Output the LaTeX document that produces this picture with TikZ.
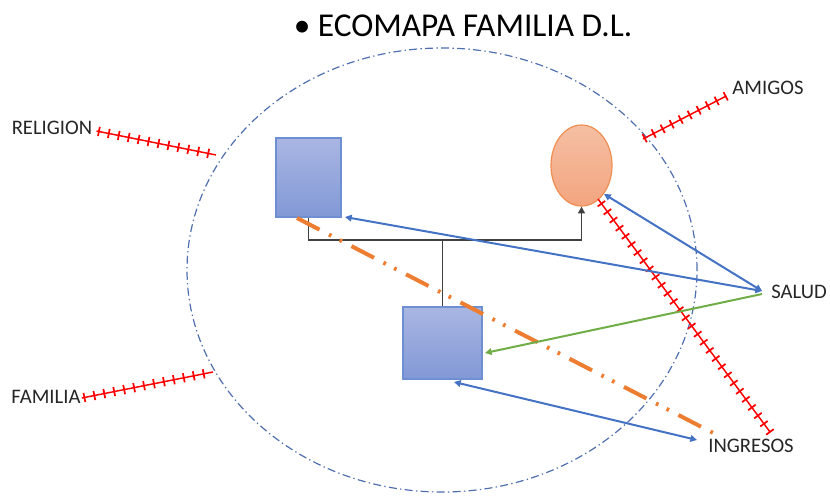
\documentclass[tikz,border=0pt]{standalone}
\usepackage{fontspec}
\setmainfont{Carlito}
\usetikzlibrary{arrows.meta,decorations.markings,calc,shapes.geometric}
\definecolor{bluefillA}{HTML}{A9B6E2}
\definecolor{bluefillB}{HTML}{8298D6}
\definecolor{blueborder}{HTML}{6E8FD2}
\definecolor{orgA}{HTML}{F5BFA3}
\definecolor{orgB}{HTML}{F3A57F}
\definecolor{orgborder}{HTML}{EF8E52}
\definecolor{orgline}{HTML}{ED7D31}
\definecolor{relblue}{HTML}{4472C4}
\definecolor{relgreen}{HTML}{70AD47}
\definecolor{circblue}{HTML}{4F6FAE}
\definecolor{xred}{HTML}{FF0000}
\tikzset{
  male/.style={draw=blueborder, line width=0.9pt, top color=bluefillA, bottom color=bluefillB, inner sep=0pt},
  female/.style={ellipse, draw=orgborder, line width=0.9pt, top color=orgA, bottom color=orgB, inner sep=0pt},
  lbl/.style={font=\fontsize{15.5}{17}\selectfont, inner sep=0pt, text=black!85},
  famline/.style={draw=black!75, line width=1.2pt},
  rel/.style={draw=relblue, line width=1.5pt},
  tipb/.style={{Triangle[width=5pt,length=5pt]}-{Triangle[width=5pt,length=5pt]}},
  tipe/.style={-{Triangle[width=5pt,length=5pt]}},
  redx/.style={draw=xred, line width=1.1pt, postaction={decorate},
    decoration={markings, mark=between positions 0.02 and 1 step 7.6pt with {\draw[xred,line width=1.3pt] (0,-3.5pt)--(0,3.5pt);}}},
  circ/.style={draw=circblue, line width=0.9pt, dash pattern=on 6pt off 2.5pt on 1pt off 2.5pt},
  orgdash/.style={draw=orgline, line width=3pt, dash pattern=on 19pt off 8pt on 2pt off 7pt on 2pt off 8pt}
}
\begin{document}
\begin{tikzpicture}[x=0.75pt,y=-0.75pt]
\useasboundingbox (0,0) rectangle (830,496);
% title
\node[font=\fontsize{25}{28}\selectfont, inner sep=0pt, text=black] (title) at (463,26) {• ECOMAPA FAMILIA D.L.};
% big circle
\node[circ, ellipse, minimum width=382.5pt, minimum height=333pt, inner sep=0pt] (env) at (442,270) {};
% family members
\node[male, minimum width=48.75pt, minimum height=59.25pt] (p1) at (308.5,177.5) {};
\node[female, minimum width=45.75pt, minimum height=60.75pt] (m) at (581.5,165.5) {};
\node[male, minimum width=59.25pt, minimum height=54pt] (c) at (442.5,343) {};
% labels
\node[lbl] (religion) at (52,128) {RELIGION};
\node[lbl] (amigos) at (768,88) {AMIGOS};
\node[lbl] (salud) at (799,292) {SALUD};
\node[lbl] (familia) at (46,397) {FAMILIA};
\node[lbl] (ingresos) at (751,446) {INGRESOS};
% coordinates
\coordinate (bar) at (442.5,240);
\coordinate (relend) at (216,155);
\coordinate (amiend) at (643,139);
\coordinate (famend) at (213,372);
\coordinate (mx) at (598,199);
\coordinate (mxend) at (770,432);
\coordinate (ostart) at (297,218);
\coordinate (oend) at (721,437);
\coordinate (sA) at (762,291);
\coordinate (sB) at (762,294);
\coordinate (p1r) at (345,217);
\coordinate (mr) at (604,194);
\coordinate (cr) at (485,353);
\coordinate (cb) at (454,382);
\coordinate (ing) at (697,440);
% family lines
\draw[famline, tipe] (p1.south) |- (bar) -| (m.south);
\draw[famline] (bar) -- (c.north);
% orange relation
\draw[orgdash] (ostart) -- (oend);
% red stressful relations
\draw[redx] ($(religion.east)+(4,3)$) -- (relend);
\draw[redx] (amiend) -- ($(amigos.west)+(-6,8)$);
\draw[redx] ($(familia.east)+(1,1)$) -- (famend);
\draw[redx] (mx) -- (mxend);
% blue/green relations
\draw[rel, tipb] (p1r) -- (sA);
\draw[rel, tipb] (mr) -- (sA);
\draw[draw=relgreen, line width=1.5pt, tipe] (sB) -- (cr);
\draw[rel, tipb] (cb) -- (ing);
\end{tikzpicture}
\end{document}
